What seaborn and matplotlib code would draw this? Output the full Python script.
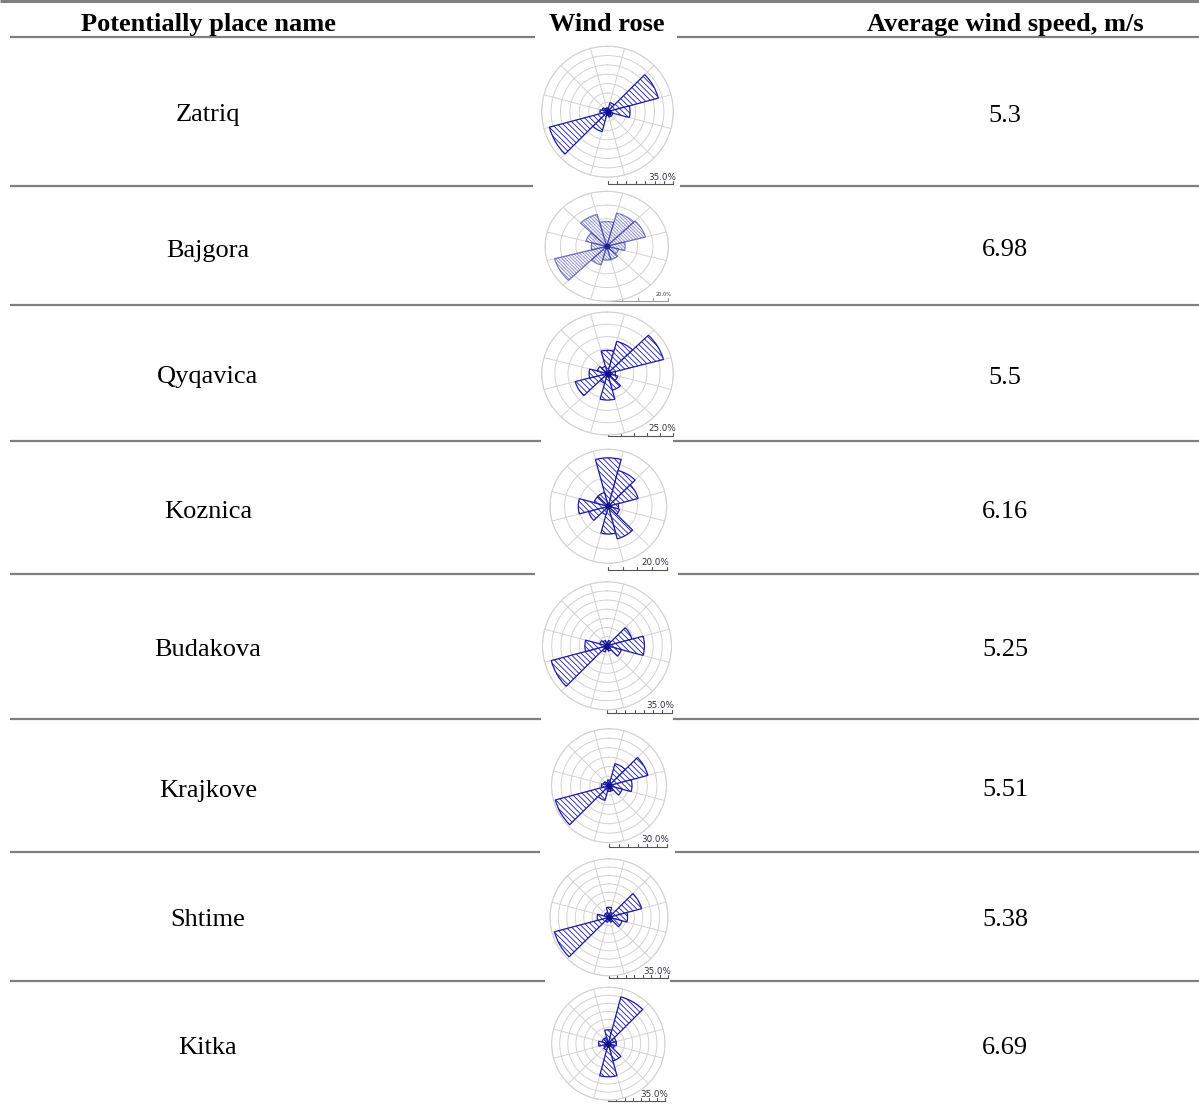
import numpy as np
import matplotlib
matplotlib.use("Agg")
import matplotlib.pyplot as plt
import seaborn as sns

# ---- table content -------------------------------------------------------
places = ["Zatriq", "Bajgora", "Qyqavica", "Koznica",
          "Budakova", "Krajkove", "Shtime", "Kitka"]
mean_speed = ["5.3", "6.98", "5.5", "6.16", "5.25", "5.51", "5.38", "6.69"]
headers = ["Potentially place name", "Wind rose", "Average wind speed, m/s"]

# wind direction sectors (degrees, clockwise from north)
sector_deg = [0, 30, 60, 90, 120, 150, 180, 210, 240, 270, 300, 330]

# frequency of each sector, % of time
freq_zatriq = [2, 5, 28, 12, 3, 3, 2, 11, 32, 4, 3, 2]
freq_bajgora = [9, 12.5, 13, 6, 4, 5, 5, 7, 17.5, 5, 7, 12]
freq_qyqavica = [9.4, 13.5, 22, 3, 4, 7, 10.8, 4, 12.7, 7, 4, 3]
freq_koznica = [17, 13, 10.6, 3.5, 4, 11.8, 9.7, 3, 7, 10.3, 5, 5]
freq_budakova = [2, 3, 14, 20.3, 8, 3, 2, 3.5, 31.3, 12, 4, 3]
freq_krajkove = [3, 12, 21, 12, 7, 3, 3, 8, 29, 4, 3, 2]
freq_shtime = [6, 3, 20, 11, 8, 3, 2, 3, 33.5, 7, 3, 3]
freq_kitka = [8.6, 30, 5, 5, 4, 11, 20.5, 4, 3, 6, 4, 4]

rose_freqs = [freq_zatriq, freq_bajgora, freq_qyqavica, freq_koznica,
              freq_budakova, freq_krajkove, freq_shtime, freq_kitka]
# outer circle of each rose, %
scale_max = [35, 20, 25, 20, 35, 30, 35, 35]

# ---- page layout (pixels) -------------------------------------------------
W, H = 1199, 1104
row_text_y = [113, 248, 375, 509, 648, 788, 918, 1046]
# rose centre x, centre y, radius x, radius y, scale bar y
rose_geom = [
    (607.5, 111.7, 65.8, 65.5, 184.0),
    (606.7, 246.3, 61.7, 55.0, 301.0),
    (607.5, 373.5, 65.8, 61.5, 435.5),
    (608.3, 506.3, 58.3, 57.0, 569.7),
    (607.0, 645.8, 64.5, 64.0, 712.7),
    (609.0, 785.7, 57.5, 57.0, 846.7),
    (609.0, 917.3, 59.0, 58.5, 978.3),
    (608.3, 1043.7, 56.7, 56.5, 1101.3),
]
# the second rose is a fainter, softer picture
rose_alpha = [1, 0.55, 1, 1, 1, 1, 1, 1]
# horizontal rules: y, gap left by the rose picture (or None)
rules = [(37, (535, 677)), (186, (533, 680)), (305, None), (441, (541, 673)),
         (574, (535, 678)), (719, (541, 673)), (852, (540, 675)),
         (981, (545, 670))]

sns.set_style("white")
plt.rcParams["font.family"] = ["Liberation Serif", "DejaVu Serif"]
plt.rcParams["hatch.linewidth"] = 0.6

fig = plt.figure(figsize=(W / 100, H / 100), dpi=100)
page = fig.add_axes([0, 0, 1, 1])
page.set_xlim(0, W)
page.set_ylim(H, 0)
page.axis("off")

rule_color = "#7f7f7f"
page.plot([0, W], [1, 1], color=rule_color, lw=2.2, solid_capstyle="butt")
for y, gap in rules:
    if gap is None:
        page.plot([10, W], [y, y], color=rule_color, lw=1.6, solid_capstyle="butt")
    else:
        page.plot([10, gap[0]], [y, y], color=rule_color, lw=1.6, solid_capstyle="butt")
        page.plot([gap[1], W], [y, y], color=rule_color, lw=1.6, solid_capstyle="butt")

col_x = [208, 607, 1005]
for x, txt in zip(col_x, headers):
    page.text(x, 31, txt, ha="center", va="baseline", fontsize=19,
              fontweight="bold", color="black")

for y, name, spd in zip(row_text_y, places, mean_speed):
    page.text(col_x[0], y + 8.5, name, ha="center", va="baseline", fontsize=19,
              color="black")
    page.text(col_x[2], y + 8.5, spd, ha="center", va="baseline", fontsize=19,
              color="black")

# ---- wind roses -----------------------------------------------------------
theta = np.radians(sector_deg)
sector_width = np.radians(30)
rose_blue = "#1c1ca6"
grid_grey = "#d2d2d2"

for freqs, smax, (cx, cy, rx, ry, bar_y), alpha in zip(
        rose_freqs, scale_max, rose_geom, rose_alpha):
    ax = fig.add_axes([(cx - rx) / W, (H - cy - ry) / H, 2 * rx / W, 2 * ry / H],
                      projection="polar")
    ax.set_aspect("auto")
    ax.set_theta_zero_location("N")
    ax.set_theta_direction(-1)
    ax.set_axisbelow(True)
    hatch = "\\" * (10 if alpha < 1 else 6)
    ax.bar(theta, freqs, width=sector_width, bottom=0, facecolor="white",
           edgecolor=rose_blue, linewidth=0.9, hatch=hatch, alpha=alpha, zorder=2)
    ax.plot([0], [0], marker="o", ms=3.5, color="#10108a", alpha=alpha, zorder=3)
    ax.set_ylim(0, smax)
    ax.set_yticks(np.arange(5, smax + 0.1, 5))
    ax.set_xticks(np.radians(np.arange(15, 360, 30)))
    ax.set_xticklabels([])
    ax.set_yticklabels([])
    ax.grid(True, color=grid_grey, lw=0.7)
    ax.spines["polar"].set_color(grid_grey)
    ax.spines["polar"].set_linewidth(0.8)
    ax.set_facecolor("white")

    # distance scale under the rose
    n_rings = int(round(smax / 5))
    x_end = cx + rx
    bar_col = "#555555" if alpha == 1 else "#999999"
    page.plot([cx, x_end], [bar_y, bar_y], color=bar_col, lw=0.8)
    for k in range(n_rings + 1):
        xt = cx + rx * k / n_rings
        page.plot([xt, xt], [bar_y, bar_y - 3], color=bar_col, lw=0.8)
    small = 3.6 if alpha < 1 else 6.3
    page.text(x_end + 3, bar_y - 4.5, f"{smax:.1f}%", ha="right", va="baseline",
              fontsize=small, color="#333344", family="DejaVu Sans")

fig.savefig("out.png", dpi=100)
